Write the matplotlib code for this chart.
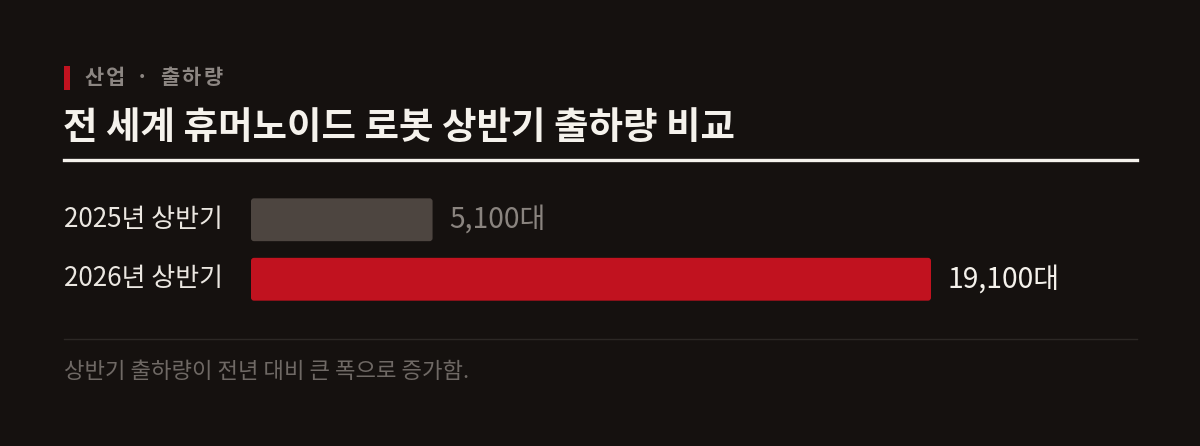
import matplotlib
matplotlib.use("Agg")
import matplotlib.pyplot as plt
from matplotlib.patches import FancyBboxPatch, Rectangle
from matplotlib.lines import Line2D

plt.rcParams['font.family'] = ['Noto Sans CJK KR', 'DejaVu Sans']

# 데이터
periods = ['2025년 상반기', '2026년 상반기']
shipments = [5100, 19100]
value_labels = ['5,100대', '19,100대']
bar_colors = ['#4d4540', '#c1121f']
value_colors = ['#8a847f', '#f5f2ec']

kicker = '산업 · 출하량'
title = '전 세계 휴머노이드 로봇 상반기 출하량 비교'
note = '상반기 출하량이 전년 대비 큰 폭으로 증가함.'

W, H = 1200, 446
BG = '#15110f'

fig = plt.figure(figsize=(W / 100, H / 100), dpi=100, facecolor=BG)
renderer = fig.canvas.get_renderer()

def px(x, y):
    return x / W, 1 - y / H

# 자간 있는 텍스트 (글자마다 따로 배치)
def spaced_text(x, y, s, spacing, **kw):
    for ch in s:
        t = fig.text(*px(x, y), ch, va='center', ha='left', **kw)
        w = t.get_window_extent(renderer).width if ch.strip() else 5
        x += w + spacing

# 헤더
fig.patches.append(Rectangle(px(64, 90), 6 / W, 24 / H, transform=fig.transFigure,
                             color='#c1121f', lw=0))
spaced_text(84, 78, kicker, 3, color='#8c8682', fontsize=15, fontweight='bold')
fig.text(*px(63, 127), title, color='#f5f2ec', fontsize=27, fontweight='bold',
         va='center', ha='left')
fig.lines.append(Line2D([64 / W, 1137 / W], [1 - 159.5 / H] * 2, transform=fig.transFigure,
                        color='#f5f2ec', lw=2.4))

# 막대
ax_l, ax_r, ax_t, ax_b = 251, 1137, 190, 309
ax = fig.add_axes([ax_l / W, 1 - ax_b / H, (ax_r - ax_l) / W, (ax_b - ax_t) / H])
ax.set_facecolor(BG)
scale = 680 / shipments[1]  # px per unit
xmax = (ax_r - ax_l) / scale
ax.set_xlim(0, xmax)
ax.set_ylim(1.5, -0.5)
ax.axis('off')

bars = ax.barh(range(len(periods)), shipments, height=0.72, color=bar_colors)
ux = xmax / (ax_r - ax_l)
uy = 2 / (ax_b - ax_t)
for b in bars:
    x0, y0, w, h = b.get_x(), b.get_y(), b.get_width(), b.get_height()
    b.set_visible(False)
    ax.add_patch(FancyBboxPatch((x0, y0), w, h,
                                boxstyle=f'round,pad=0,rounding_size={3 * ux}',
                                mutation_aspect=uy / ux,
                                fc=b.get_facecolor(), lw=0))

for i, (v, lab) in enumerate(zip(shipments, value_labels)):
    ax.text(v + 17 * ux, i, lab, color=value_colors[i], fontsize=20.3,
            va='center', ha='left')
    fig.text(64 / W, 1 - (219.5 + i * 59.5) / H, periods[i], color='#ebe7e1',
             fontsize=18.7, va='center', ha='left')

# 하단
fig.lines.append(Line2D([64 / W, 1137 / W], [1 - 338.5 / H] * 2, transform=fig.transFigure,
                        color='#2c2825', lw=1))
fig.text(*px(64, 371), note, color='#6f6965', fontsize=16, va='center', ha='left')

fig.savefig('out.png', dpi=100, facecolor=BG)
